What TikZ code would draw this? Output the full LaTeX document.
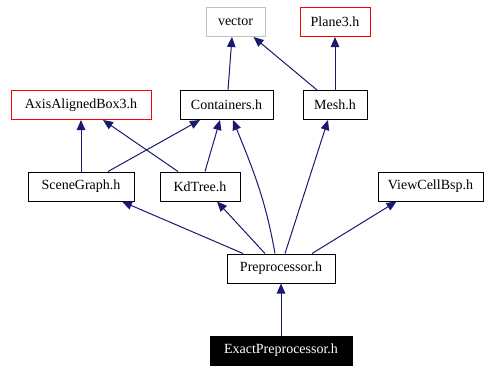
\documentclass[tikz,border=0pt]{standalone}
\usepackage{fontspec}
\setmainfont{Liberation Serif}
\usepackage{tikz}
\usetikzlibrary{arrows.meta}
\definecolor{edgeblue}{HTML}{191970}
\definecolor{extgray}{HTML}{BFBFBF}

\begin{document}
\begin{tikzpicture}[
x=1pt, y=-1pt,
box/.style={draw=black, line width=1pt, fill=white, minimum height=29, inner sep=0pt, font=\fontsize{14}{16}\selectfont},
extbox/.style={box, draw=extgray},
redbox/.style={box, draw=red},
mainbox/.style={box, fill=black, text=white},
dep/.style={{Triangle[length=10pt,width=8.5pt]}-, line width=1pt, edgeblue}
]
\useasboundingbox (0,0) rectangle (484,365);
% top row
\node[extbox, minimum width=59] (vector) at (235.5,22) {vector};
\node[redbox, minimum width=70] (plane) at (335,22) {Plane3.h};
% second row
\node[redbox, minimum width=140] (aabb) at (81,105) {AxisAlignedBox3.h};
\node[box, minimum width=93] (containers) at (226.5,105) {Containers.h};
\node[box, minimum width=64] (mesh) at (335,105) {Mesh.h};
% third row
\node[box, minimum width=106] (scene) at (81,186.5) {SceneGraph.h};
\node[box, minimum width=80] (kdtree) at (200,186.5) {KdTree.h};
\node[box, minimum width=105] (viewcell) at (430.5,186.5) {ViewCellBsp.h};
% bottom
\node[box, minimum width=108] (pre) at (281,268.5) {Preprocessor.h};
\node[mainbox, minimum width=142] (exact) at (281,350.5) {ExactPreprocessor.h};

\draw[dep] ([xshift=-3.5]vector.south) -- ([xshift=1.5]containers.north);
\draw[dep] ([xshift=18]vector.south) -- ([xshift=-18]mesh.north);
\draw[dep] (plane) -- (mesh);
\draw[dep] (aabb) -- (scene);
\draw[dep] ([xshift=22]aabb.south) -- ([xshift=-22]kdtree.north);
\draw[dep] ([xshift=-26.5]containers.south) -- ([xshift=27]scene.north);
\draw[dep] ([xshift=-6.5]containers.south) -- ([xshift=5]kdtree.north);
\draw[dep] ([xshift=6.5]containers.south) to[out=-68,in=100] ([xshift=-6]pre.north);
\draw[dep] ([xshift=-7]mesh.south) -- ([xshift=4]pre.north);
\draw[dep] ([xshift=41]scene.south) -- ([xshift=-38]pre.north);
\draw[dep] ([xshift=17]kdtree.south) -- ([xshift=-16]pre.north);
\draw[dep] ([xshift=-34]viewcell.south) -- ([xshift=31]pre.north);
\draw[dep] (pre) -- (exact);
\end{tikzpicture}
\end{document}
